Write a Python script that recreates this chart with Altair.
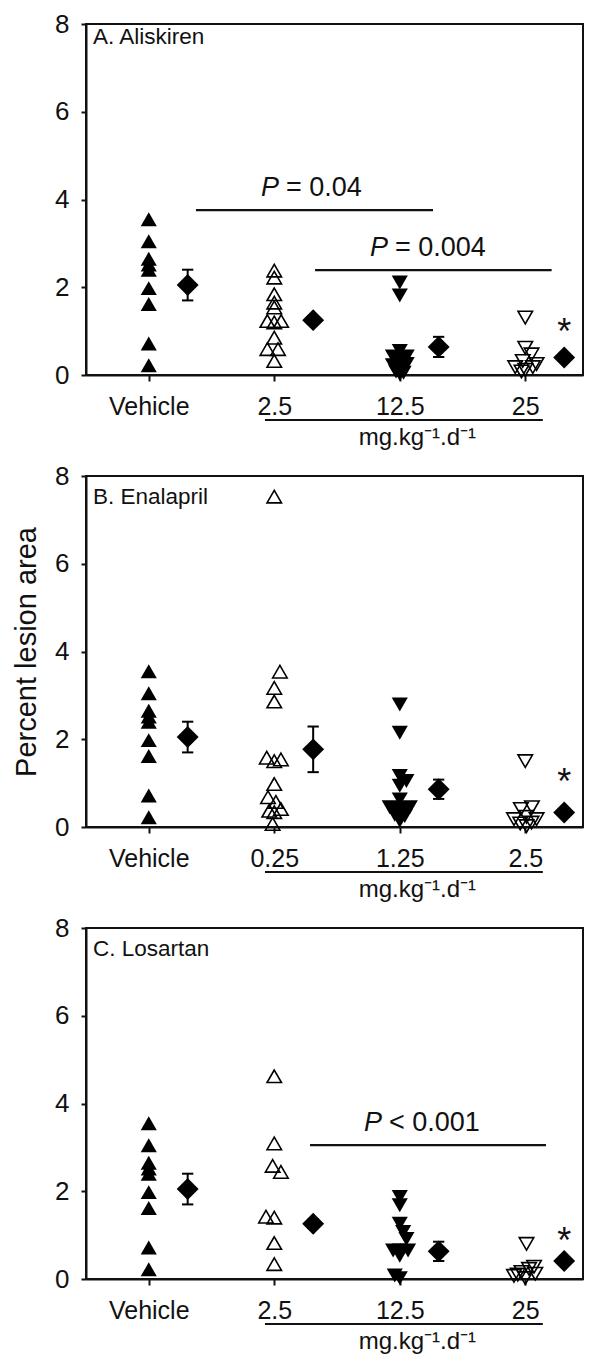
import altair as alt
import pandas as pd

FONT = "Liberation Sans"
INK = "#111111"
W, H = 497, 351
X_MAX = 3.96  # keeps the category spacing of the original while fitting the page

# ---------------- data ----------------
# group order on x: Vehicle, low dose, mid dose, high dose
vehicle_vals = [3.55, 3.05, 2.65, 2.52, 2.40, 1.98, 1.62, 0.72, 0.22]
vehicle_jit = [0, 0, 0, 0, 0, 0, 0, 0, 0]

# A. Aliskiren (2.5, 12.5, 25 mg/kg/d)
a_low_vals = [2.38, 2.22, 1.84, 1.65, 1.54, 1.23, 1.20, 1.23, 0.85, 0.59, 0.59, 0.32]
a_low_jit = [0, 0, 0, 0, 0, -0.055, 0, 0.055, 0, -0.055, 0.03, 0]
a_mid_vals = [2.11, 1.81, 0.55, 0.42, 0.42, 0.35, 0.22, 0.25, 0.18, 0.08, 0.05, 0.02]
a_mid_jit = [0, 0, 0, -0.055, 0.055, 0, -0.055, 0.055, 0, -0.03, 0.03, 0]
a_high_vals = [1.31, 0.62, 0.47, 0.32, 0.25, 0.18, 0.12, 0.18, 0.08]
a_high_jit = [0, 0, 0.05, -0.02, 0.09, -0.08, 0, 0.06, -0.03]
a_means = [2.05, 1.25, 0.64, 0.40]
a_sems = [0.35, 0.09, 0.23, 0.05]
a_ticks = ["Vehicle", "2.5", "12.5", "25"]

# B. Enalapril (0.25, 1.25, 2.5 mg/kg/d)
b_low_vals = [7.53, 3.54, 3.17, 2.86, 1.58, 1.50, 1.54, 0.98, 0.68, 0.57, 0.37, 0.41, 0.34, 0.07]
b_low_jit = [0, 0.045, 0, 0, -0.06, 0, 0.053, 0, -0.05, 0.013, -0.04, 0.053, 0, -0.013]
b_mid_vals = [2.79, 2.15, 1.16, 1.05, 0.94, 0.63, 0.45, 0.42, 0.42, 0.45, 0.35, 0.28, 0.25, 0.14]
b_mid_jit = [0, 0, 0, 0.053, 0, 0, -0.08, -0.03, 0.03, 0.08, 0, -0.04, 0.04, 0]
b_high_vals = [1.50, 0.45, 0.41, 0.18, 0.23, 0.18, 0.08, 0.02, 0.10]
b_high_jit = [0, 0.053, -0.035, -0.09, 0.01, 0.09, -0.04, 0.01, 0.05]
b_means = [2.05, 1.77, 0.86, 0.33]
b_sems = [0.35, 0.52, 0.22, 0.06]
b_ticks = ["Vehicle", "0.25", "1.25", "2.5"]

# C. Losartan (2.5, 12.5, 25 mg/kg/d)
c_low_vals = [4.62, 3.09, 2.58, 2.44, 1.42, 1.40, 0.82, 0.34]
c_low_jit = [0, 0, -0.013, 0.053, -0.066, 0, 0, 0]
c_mid_vals = [1.87, 1.68, 1.26, 1.07, 0.91, 0.65, 0.65, 0.65, 0.53, 0.08, 0.02]
c_mid_jit = [0, 0, 0, 0.027, 0.053, -0.053, 0, 0.066, 0, -0.04, 0]
c_high_vals = [0.80, 0.07, 0.16, 0.23, 0.28, 0.02, 0.12, 0.10]
c_high_jit = [0.01, -0.09, -0.03, 0.03, 0.07, 0.0, 0.08, -0.06]
c_means = [2.05, 1.26, 0.63, 0.41]
c_sems = [0.35, 0.10, 0.22, 0.05]
c_ticks = ["Vehicle", "2.5", "12.5", "25"]

# significance bars: (x from, x to, y, text start, text)
a_pbars = [(0.876, 2.765, 3.76, 1.394, "= 0.04"), (1.825, 3.71, 2.39, 2.263, "= 0.004")]
b_pbars = []
c_pbars = [(1.785, 3.665, 3.05, 2.215, "< 0.001")]

star_y = {"A": 1.10, "B": 1.13, "C": 0.97}
MEAN_SHIFT = 0.31


def panel(label, label_y, groups, means, sems, ticks, pbars, sy, show_title):
    xs = alt.Scale(domain=[0, X_MAX], nice=False, zero=False)
    ys = alt.Scale(domain=[0, 8], nice=False)
    arr = "[" + ",".join("'%s'" % t for t in ticks) + "]"
    xaxis = alt.Axis(values=[0.5, 1.5, 2.5, 3.5], labelExpr=arr + "[floor(datum.value)]",
                     title=None, grid=False, tickSize=6, labelPadding=13,
                     labelFontSize=25, labelFont=FONT, labelColor=INK,
                     domainWidth=2, tickWidth=2, domainColor=INK, tickColor=INK,
                     labelOverlap=False, labelFlush=False)
    yaxis = alt.Axis(values=[0, 2, 4, 6, 8], title="Percent lesion area",
                     titleOpacity=1 if show_title else 0, titleFont=FONT,
                     titleFontSize=29, titleFontWeight="normal", titleColor=INK,
                     titlePadding=13, grid=False, tickSize=5, labelPadding=12,
                     labelFontSize=26, labelFont=FONT, labelColor=INK,
                     domainWidth=2, tickWidth=2, domainColor=INK, tickColor=INK,
                     labelOverlap=False, labelFlush=False)

    def X(f):
        return alt.X(f, type="quantitative", scale=xs, axis=xaxis)

    def Y(f):
        return alt.Y(f, type="quantitative", scale=ys, axis=yaxis)

    layers = []
    styles = [("triangle-up", True), ("triangle-up", False),
              ("triangle-down", True), ("triangle-down", False)]
    for g, (vals, jit) in enumerate(groups):
        shape, filled = styles[g]
        df = pd.DataFrame({"x": [g + 0.5 + j for j in jit], "y": vals})
        if filled:
            mk = alt.Chart(df).mark_point(shape=shape, filled=True, size=260,
                                          color="black", opacity=1)
        else:
            mk = alt.Chart(df).mark_point(shape=shape, filled=False, size=210,
                                          color="black", strokeWidth=1.6, opacity=1)
        layers.append(mk.encode(x=X("x"), y=Y("y")))

    mdf = pd.DataFrame({
        "mx": [g + 0.5 + MEAN_SHIFT for g in range(4)],
        "m": means,
        "lo": [m - s for m, s in zip(means, sems)],
        "hi": [m + s for m, s in zip(means, sems)],
    })
    mdf["cx1"] = mdf["mx"] - 0.045
    mdf["cx2"] = mdf["mx"] + 0.045
    layers.append(alt.Chart(mdf).mark_rule(color="black", strokeWidth=2)
                  .encode(x=X("mx"), y=Y("lo"), y2=alt.Y2("hi")))
    layers.append(alt.Chart(mdf).mark_rule(color="black", strokeWidth=2)
                  .encode(x=X("cx1"), x2=alt.X2("cx2"), y=Y("lo")))
    layers.append(alt.Chart(mdf).mark_rule(color="black", strokeWidth=2)
                  .encode(x=X("cx1"), x2=alt.X2("cx2"), y=Y("hi")))
    layers.append(alt.Chart(mdf).mark_point(shape="diamond", filled=True, size=480,
                                            color="black", opacity=1)
                  .encode(x=X("mx"), y=Y("m")))

    sdf = pd.DataFrame({"sx": [3.5 + MEAN_SHIFT], "sy": [sy], "t": ["*"]})
    layers.append(alt.Chart(sdf).mark_text(fontSize=36, font=FONT, color=INK,
                                           baseline="middle", dy=6)
                  .encode(x=X("sx"), y=Y("sy"), text="t:N"))

    if pbars:
        pdf = pd.DataFrame(pbars, columns=["x1", "x2", "y", "tx", "t"])
        layers.append(alt.Chart(pdf).mark_rule(color=INK, strokeWidth=2.2)
                      .encode(x=X("x1"), x2=alt.X2("x2"), y=Y("y")))
        layers.append(alt.Chart(pdf).mark_text(text="P", fontStyle="italic", fontSize=27,
                                               font=FONT, color=INK, align="left",
                                               baseline="alphabetic", dy=-14)
                      .encode(x=X("tx"), y=Y("y")))
        layers.append(alt.Chart(pdf).mark_text(fontSize=27, font=FONT, color=INK,
                                               align="left", baseline="alphabetic",
                                               dy=-14, dx=25)
                      .encode(x=X("tx"), y=Y("y"), text="t:N"))

    udf = pd.DataFrame({"ux1": [1.426], "ux2": [3.64], "ux": [2.64], "t": ["mg.kg⁻¹.d⁻¹"]})
    layers.append(alt.Chart(udf).mark_rule(color=INK, strokeWidth=2)
                  .encode(x=X("ux1"), x2=alt.X2("ux2"), y=alt.value(H + 45)))
    layers.append(alt.Chart(udf).mark_text(fontSize=24, font=FONT, color=INK,
                                           baseline="alphabetic")
                  .encode(x=X("ux"), y=alt.value(H + 70), text="t:N"))

    ldf = pd.DataFrame({"t": [label]})
    layers.append(alt.Chart(ldf).mark_text(fontSize=22.5, font=FONT, color=INK,
                                           align="left", baseline="alphabetic")
                  .encode(x=alt.value(7), y=alt.value(label_y), text="t:N"))

    return alt.layer(*layers).properties(width=W, height=H)


vg = (vehicle_vals, vehicle_jit)
pa = panel("A. Aliskiren", 20,
           [vg, (a_low_vals, a_low_jit), (a_mid_vals, a_mid_jit), (a_high_vals, a_high_jit)],
           a_means, a_sems, a_ticks, a_pbars, star_y["A"], False)
pb = panel("B. Enalapril", 28,
           [vg, (b_low_vals, b_low_jit), (b_mid_vals, b_mid_jit), (b_high_vals, b_high_jit)],
           b_means, b_sems, b_ticks, b_pbars, star_y["B"], True)
pc = panel("C. Losartan", 28,
           [vg, (c_low_vals, c_low_jit), (c_mid_vals, c_mid_jit), (c_high_vals, c_high_jit)],
           c_means, c_sems, c_ticks, c_pbars, star_y["C"], False)

chart = (
    alt.vconcat(pa, pb, pc, spacing=101, bounds="flush")
    .properties(padding={"left": 3, "top": 2, "right": 0, "bottom": 6}, background="white")
    .configure_view(stroke=INK, strokeWidth=2)
)

chart.save("out.html", embed_options={"renderer": "svg", "actions": False})
